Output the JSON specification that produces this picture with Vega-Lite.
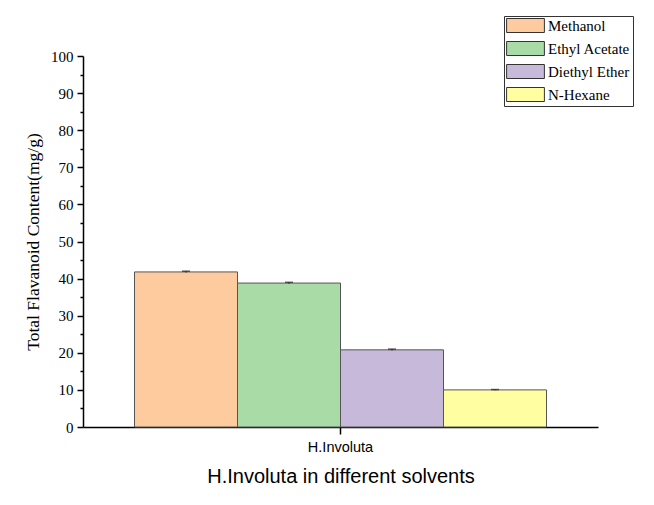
{
  "$schema": "https://vega.github.io/schema/vega-lite/v6.json",
  "width": 515,
  "height": 371,
  "autosize": {"type": "none"},
  "padding": {"left": 83, "top": 56, "right": 56, "bottom": 78},
  "background": "white",
  "config": {
    "view": {"stroke": null},
    "axisY": {
      "titleFont": "Liberation Serif",
      "titleFontSize": 17.5,
      "titleFontWeight": "normal",
      "titleColor": "black",
      "titlePadding": 8,
      "labelFont": "Liberation Serif",
      "labelFontSize": 15,
      "labelColor": "black",
      "labelPadding": 4,
      "labelOverlap": false,
      "labelBound": false,
      "tickWidth": 1.5,
      "tickColor": "black",
      "domainColor": "black",
      "domainWidth": 1.5,
      "grid": false
    }
  },
  "data": {
    "values": [
      {"sample": "H.Involuta", "solvent": "Methanol", "value": 41.8, "lo": 41.6, "hi": 42.0},
      {"sample": "H.Involuta", "solvent": "Ethyl Acetate", "value": 38.8, "lo": 38.6, "hi": 39.0},
      {"sample": "H.Involuta", "solvent": "Diethyl Ether", "value": 20.8, "lo": 20.6, "hi": 21.0},
      {"sample": "H.Involuta", "solvent": "N-Hexane", "value": 10.0, "lo": 9.9, "hi": 10.1}
    ]
  },
  "encoding": {
    "x": {
      "field": "sample",
      "type": "nominal",
      "scale": {"paddingInner": 0, "paddingOuter": 0.125},
      "axis": {
        "title": "H.Involuta in different solvents",
        "titleFont": "Liberation Sans",
        "titleFontSize": 20,
        "titleFontWeight": "normal",
        "titleColor": "black",
        "titlePadding": 13,
        "labelFont": "Liberation Sans",
        "labelFontSize": 14.5,
        "labelColor": "black",
        "labelAngle": 0,
        "labelPadding": 6,
        "tickSize": 7,
        "tickWidth": 1.5,
        "tickColor": "black",
        "domainColor": "black",
        "domainWidth": 1.5
      }
    },
    "xOffset": {
      "field": "solvent",
      "type": "nominal",
      "sort": ["Methanol", "Ethyl Acetate", "Diethyl Ether", "N-Hexane"],
      "scale": {"paddingInner": 0, "paddingOuter": 0}
    }
  },
  "layer": [
    {
      "mark": {"type": "bar", "stroke": "#555555", "strokeWidth": 1},
      "encoding": {
        "y": {
          "field": "value",
          "type": "quantitative",
          "scale": {"domain": [0, 100], "nice": false},
          "axis": {
            "title": "Total Flavanoid Content(mg/g)",
            "values": [0, 5, 10, 15, 20, 25, 30, 35, 40, 45, 50, 55, 60, 65, 70, 75, 80, 85, 90, 95, 100],
            "labelExpr": "datum.value % 10 === 0 ? datum.label : ''",
            "tickSize": {"condition": {"test": "datum.value % 10 === 0", "value": 6}, "value": 3}
          }
        },
        "color": {
          "field": "solvent",
          "type": "nominal",
          "sort": ["Methanol", "Ethyl Acetate", "Diethyl Ether", "N-Hexane"],
          "scale": {
            "domain": ["Methanol", "Ethyl Acetate", "Diethyl Ether", "N-Hexane"],
            "range": ["#FDCB9D", "#A8DBA6", "#C7B9DA", "#FFFEA1"]
          },
          "legend": {
            "orient": "none",
            "legendX": 421,
            "legendY": -40,
            "title": null,
            "symbolType": "M-2.7,-1H2.7V1H-2.7Z",
            "symbolSize": 196,
            "symbolOffset": 12,
            "symbolStrokeColor": "#333333",
            "symbolStrokeWidth": 1,
            "symbolOpacity": 1,
            "labelFont": "Liberation Serif",
            "labelFontSize": 15,
            "labelColor": "black",
            "labelOffset": 15,
            "rowPadding": 4,
            "padding": 2,
            "strokeColor": "#333333",
            "fillColor": "white"
          }
        }
      }
    },
    {
      "mark": {"type": "rule", "color": "#222222"},
      "encoding": {
        "y": {
          "field": "lo",
          "type": "quantitative",
          "axis": {
            "title": "Total Flavanoid Content(mg/g)",
            "values": [0, 5, 10, 15, 20, 25, 30, 35, 40, 45, 50, 55, 60, 65, 70, 75, 80, 85, 90, 95, 100],
            "labelExpr": "datum.value % 10 === 0 ? datum.label : ''",
            "tickSize": {"condition": {"test": "datum.value % 10 === 0", "value": 6}, "value": 3}
          }
        },
        "y2": {"field": "hi"}
      }
    },
    {
      "mark": {"type": "tick", "color": "#222222", "size": 8, "thickness": 1.5},
      "encoding": {
        "y": {
          "field": "hi",
          "type": "quantitative",
          "axis": {
            "title": "Total Flavanoid Content(mg/g)",
            "values": [0, 5, 10, 15, 20, 25, 30, 35, 40, 45, 50, 55, 60, 65, 70, 75, 80, 85, 90, 95, 100],
            "labelExpr": "datum.value % 10 === 0 ? datum.label : ''",
            "tickSize": {"condition": {"test": "datum.value % 10 === 0", "value": 6}, "value": 3}
          }
        }
      }
    }
  ]
}
